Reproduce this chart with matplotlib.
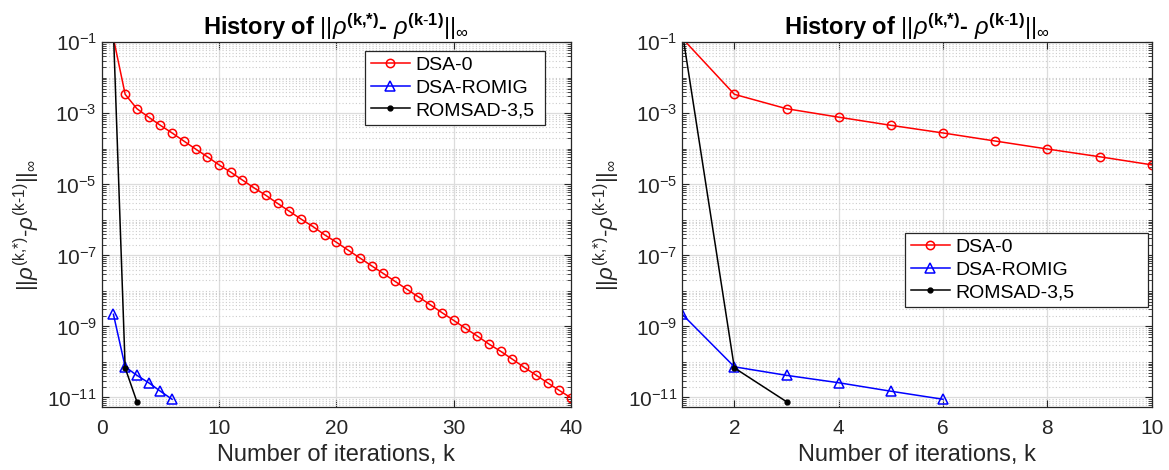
import matplotlib
matplotlib.use("Agg")
import matplotlib.pyplot as plt
from matplotlib.ticker import LogLocator, LogFormatterMathtext, NullFormatter, FixedLocator

plt.rcParams['font.family'] = ['Liberation Sans', 'DejaVu Sans']
plt.rcParams['mathtext.fontset'] = 'custom'
plt.rcParams['mathtext.rm'] = 'Liberation Sans'
plt.rcParams['mathtext.it'] = 'Liberation Sans:italic'
plt.rcParams['mathtext.bf'] = 'Liberation Sans:bold'
plt.rcParams['mathtext.sf'] = 'Liberation Sans'

# ---- data ----
k_dsa0 = list(range(1, 41))
dsa0 = [1.3e-1, 3.43e-3, 1.35e-3, 7.8e-4, 4.6e-4, 2.8e-4, 1.66e-4, 9.9e-5, 6.0e-5, 3.55e-5,
        2.2e-5, 1.32e-5, 7.9e-6, 4.9e-6, 2.9e-6, 1.74e-6, 1.05e-6, 6.5e-7, 3.8e-7, 2.35e-7,
        1.41e-7, 8.5e-8, 5.1e-8, 3.1e-8, 1.86e-8, 1.12e-8, 6.8e-9, 4.1e-9, 2.45e-9, 1.48e-9,
        8.9e-10, 5.4e-10, 3.2e-10, 2.0e-10, 1.2e-10, 7.1e-11, 4.3e-11, 2.6e-11, 1.58e-11, 9.8e-12]
k_romig = [1, 2, 3, 4, 5, 6]
romig = [2.2e-9, 7.3e-11, 4.2e-11, 2.6e-11, 1.5e-11, 8.9e-12]
k_romsad = [1, 2, 3]
romsad = [2.0e-1, 6.8e-11, 7.6e-12]

labels = ['DSA-0', 'DSA-ROMIG', 'ROMSAD-3,5']
left_xticks = [0, 10, 20, 30, 40]
right_xticks = [2, 4, 6, 8, 10]

title_txt = r'History of $||\rho^{\mathbf{(k{,}{*})}}$- $\rho^{\mathbf{(k\text{-}1)}}||_{\infty}$'
ylab_txt = r'$||\rho^{\text{(k,*)}}$-$\rho^{\text{(k-1)}}||_{\infty}$'
xlab_txt = 'Number of iterations, k'

W, H = 1169, 470
YTOP, YBOT = 1e-1, 5.5e-12
fig = plt.figure(figsize=(W / 100, H / 100), dpi=100)
axL = fig.add_axes([101.7 / W, 1 - 406.7 / H, 469.3 / W, 364.4 / H])
axR = fig.add_axes([682.2 / W, 1 - 406.7 / H, 469.5 / W, 364.4 / H])


def inside(vals):
    return [i for i, v in enumerate(vals) if YBOT <= v <= YTOP]


def to_axes(ax, x0, y0, x1, y1):
    # pixel box (top-left origin) -> axes fraction bbox
    bb = ax.get_position()
    fx0 = (x0 / W - bb.x0) / bb.width
    fx1 = (x1 / W - bb.x0) / bb.width
    fy0 = ((1 - y1 / H) - bb.y0) / bb.height
    fy1 = ((1 - y0 / H) - bb.y0) / bb.height
    return (fx0, fy0, fx1 - fx0, fy1 - fy0)


tc = '#262626'
setups = [(axL, (0, 40), left_xticks, (365, 52, 545, 125)),
          (axR, (1, 10), right_xticks, (905, 237, 1148, 307))]
for ax, xlim, xt, legbox in setups:
    ax.plot(k_dsa0, dsa0, '-o', color='red', lw=1.1, ms=6, mfc='none', mew=1.1,
            markevery=inside(dsa0), label=labels[0])
    ax.plot(k_romig, romig, '-^', color='blue', lw=1.1, ms=6.5, mfc='none', mew=1.1,
            markevery=inside(romig), label=labels[1])
    ax.plot(k_romsad, romsad, '-o', color='black', lw=1.1, ms=3.5,
            markevery=inside(romsad), label=labels[2])
    ax.set_yscale('log')
    ax.set_ylim(YBOT, YTOP)
    ax.set_xlim(*xlim)
    ax.xaxis.set_major_locator(FixedLocator(xt))
    ax.yaxis.set_major_locator(FixedLocator([1e-1, 1e-3, 1e-5, 1e-7, 1e-9, 1e-11]))
    ax.yaxis.set_major_formatter(LogFormatterMathtext())
    ax.yaxis.set_minor_locator(LogLocator(base=10, subs=[1, 2, 3, 4, 5, 6, 7, 8, 9], numticks=100))
    ax.yaxis.set_minor_formatter(NullFormatter())
    ax.grid(True, which='major', color='#dcdcdc', lw=0.9, ls='-')
    ax.grid(True, which='minor', axis='y', color='#cccccc', lw=0.8, ls=(0, (1, 2)))
    ax.set_axisbelow(True)
    ax.tick_params(which='both', direction='in', top=True, right=True, colors=tc, labelcolor=tc,
                   labelsize=15)
    ax.tick_params(which='major', length=5, width=0.8)
    ax.tick_params(which='minor', length=3, width=0.6)
    ax.tick_params(axis='x', pad=9)
    for s in ax.spines.values():
        s.set_color(tc)
        s.set_linewidth(0.9)
    ax.set_xlabel(xlab_txt, fontsize=17, color=tc, labelpad=4)
    ax.set_ylabel(ylab_txt, fontsize=16, color=tc, labelpad=4)
    ax.set_title(title_txt, fontsize=17, fontweight='bold', color='black', pad=4)
    leg = ax.legend(loc='lower left', bbox_to_anchor=to_axes(ax, *legbox), mode='expand',
                    fontsize=14, frameon=True, fancybox=False, edgecolor=tc,
                    framealpha=1, handlelength=2.0, handletextpad=0.3, borderaxespad=0,
                    labelspacing=0.25, borderpad=0.3)
    leg.get_frame().set_linewidth(0.9)

fig.savefig('out.png', dpi=100)
